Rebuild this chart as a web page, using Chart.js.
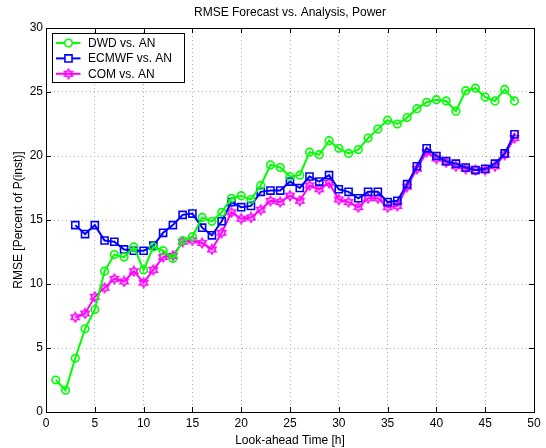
<!DOCTYPE html>
<html>
<head>
<meta charset="utf-8">
<script src="https://cdn.jsdelivr.net/npm/chart.js@4/dist/chart.umd.min.js"></script>
<style>
  html, body { margin: 0; padding: 0; background: #fff; }
  #wrap { width: 546px; height: 448px; }
</style>
</head>
<body>
<div id="wrap"><canvas id="c" width="546" height="448"></canvas></div>
<script>
// Look-ahead hours for each forecast series
const hoursDWD = [1,2,3,4,5,6,7,8,9,10,11,12,13,14,15,16,17,18,19,20,21,22,23,24,25,26,27,28,29,30,31,32,33,34,35,36,37,38,39,40,41,42,43,44,45,46,47,48];
const hoursModel = [3,4,5,6,7,8,9,10,11,12,13,14,15,16,17,18,19,20,21,22,23,24,25,26,27,28,29,30,31,32,33,34,35,36,37,38,39,40,41,42,43,44,45,46,47,48];

// RMSE in percent of installed power
const rmseDWD = [2.5,1.7,4.2,6.5,8.0,11.0,12.3,12.1,12.9,11.1,12.9,12.6,12.0,13.4,13.7,15.2,14.9,15.6,16.7,16.9,16.6,17.7,19.3,19.1,18.4,18.5,20.3,20.1,21.2,20.6,20.2,20.5,21.4,22.1,22.8,22.5,23.0,23.7,24.2,24.4,24.3,23.5,25.1,25.3,24.6,24.3,25.2,24.3];
const rmseECMWF = [14.6,13.9,14.6,13.4,13.3,12.7,12.6,12.6,13.0,14.0,14.6,15.4,15.5,14.4,13.8,14.9,16.4,16.0,16.1,17.2,17.3,17.3,18.0,17.5,18.4,18.0,18.5,17.4,17.2,16.7,17.2,17.2,16.4,16.5,17.8,19.2,20.6,20.0,19.6,19.4,19.1,18.9,19.0,19.4,20.2,21.7];
const rmseCOM = [7.4,7.7,9.0,9.7,10.4,10.2,11.0,10.1,11.1,12.1,12.2,13.3,13.4,13.2,12.7,14.0,15.6,15.1,15.2,15.8,16.5,16.4,16.9,16.5,17.7,17.4,17.9,16.6,16.4,16.0,16.7,16.7,16.0,16.1,17.6,19.0,20.3,19.8,19.5,19.2,19.0,18.9,18.9,19.2,20.1,21.4];

const seriesNames = ['DWD vs. AN', 'ECMWF vs. AN', 'COM vs. AN'];
const xTicks = [0,5,10,15,20,25,30,35,40,45,50];
const yTicks = [0,5,10,15,20,25,30];

const FONT = '"Liberation Sans", Arial, Helvetica, sans-serif';
const GREEN = '#00ff00', BLUE = '#0000ff', MAGENTA = '#ff00ff';

// six-pointed star outline used as a point marker
function makeHexagram(color) {
  const c = document.createElement('canvas');
  c.width = 12; c.height = 12;
  const g = c.getContext('2d');
  const cx = 6, cy = 6, R = 4.6, r = R / Math.sqrt(3);
  g.beginPath();
  for (let i = 0; i < 12; i++) {
    const a = -Math.PI / 2 + i * Math.PI / 6;
    const rad = i % 2 === 0 ? R : r;
    const px = cx + rad * Math.cos(a), py = cy + rad * Math.sin(a);
    if (i === 0) g.moveTo(px, py); else g.lineTo(px, py);
  }
  g.closePath();
  g.strokeStyle = color;
  g.lineWidth = 1.6;
  g.lineJoin = 'miter';
  g.stroke();
  return c;
}
const hexagram = makeHexagram(MAGENTA);

function toPoints(xs, ys) { return xs.map((x, i) => ({ x: x, y: ys[i] })); }

// frame with inward ticks on all four sides, plus title and legend
const framePlugin = {
  id: 'frame',
  afterDraw(chart) {
    const { ctx, chartArea: a, scales } = chart;
    ctx.save();
    ctx.strokeStyle = '#000';
    ctx.lineWidth = 1;
    ctx.strokeRect(Math.round(a.left) + 0.5, Math.round(a.top) + 0.5,
                   Math.round(a.right - a.left), Math.round(a.bottom - a.top));
    const tl = 5;
    ctx.beginPath();
    xTicks.forEach(v => {
      const px = Math.round(scales.x.getPixelForValue(v)) + 0.5;
      ctx.moveTo(px, a.bottom); ctx.lineTo(px, a.bottom - tl);
      ctx.moveTo(px, a.top); ctx.lineTo(px, a.top + tl);
    });
    yTicks.forEach(v => {
      const py = Math.round(scales.y.getPixelForValue(v)) + 0.5;
      ctx.moveTo(a.left, py); ctx.lineTo(a.left + tl, py);
      ctx.moveTo(a.right, py); ctx.lineTo(a.right - tl, py);
    });
    ctx.stroke();

    // title
    ctx.fillStyle = '#000';
    ctx.font = '12px ' + FONT;
    ctx.textAlign = 'center';
    ctx.textBaseline = 'middle';
    ctx.fillText('RMSE Forecast vs. Analysis, Power', (a.left + a.right) / 2, 13);

    // legend box
    const bx = a.left + 6.5, by = a.top + 5.5, bw = 132, bh = 49;
    ctx.fillStyle = '#fff';
    ctx.fillRect(bx, by, bw, bh);
    ctx.strokeStyle = '#000';
    ctx.strokeRect(bx, by, bw, bh);
    chart.data.datasets.forEach((ds, i) => {
      const y = by + 9.5 + i * 15.4;
      ctx.strokeStyle = ds.borderColor;
      ctx.lineWidth = ds.borderWidth;
      ctx.beginPath();
      ctx.moveTo(bx + 3.5, y); ctx.lineTo(bx + 28, y);
      ctx.stroke();
      ctx.fillStyle = '#fff';
      ctx.lineWidth = ds.pointBorderWidth;
      Chart.helpers.drawPoint(ctx, {
        pointStyle: ds.pointStyle,
        radius: ds.pointRadius,
        borderWidth: ds.pointBorderWidth,
        rotation: 0
      }, bx + 16, y);
      ctx.fillStyle = '#000';
      ctx.textAlign = 'left';
      ctx.fillText(ds.label, bx + 35.5, y + 0.5);
    });
    ctx.restore();
  }
};

const ds = (label, pts, color, style, radius) => ({
  label: label,
  data: pts,
  borderColor: color,
  backgroundColor: '#fff',
  borderWidth: 2,
  pointStyle: style,
  pointRadius: radius,
  pointBorderWidth: 1.6,
  pointBorderColor: color,
  pointBackgroundColor: 'rgba(0,0,0,0)',
  tension: 0,
  fill: false
});

new Chart(document.getElementById('c'), {
  type: 'line',
  data: {
    datasets: [
      ds(seriesNames[0], toPoints(hoursDWD, rmseDWD), GREEN, 'circle', 3.8),
      ds(seriesNames[1], toPoints(hoursModel, rmseECMWF), BLUE, 'rect', 5),
      ds(seriesNames[2], toPoints(hoursModel, rmseCOM), MAGENTA, hexagram, 4.5)
    ]
  },
  options: {
    responsive: false,
    animation: false,
    devicePixelRatio: 1,
    layout: { padding: { top: 28, right: 12, left: 0, bottom: 0 } },
    plugins: { legend: { display: false }, tooltip: { enabled: false }, title: { display: false } },
    scales: {
      x: {
        type: 'linear',
        min: 0, max: 50,
        afterBuildTicks: s => { s.ticks = xTicks.map(v => ({ value: v })); },
        afterFit: s => { s.height = 36; },
        ticks: { color: '#000', font: { family: FONT, size: 12 }, padding: 4, maxRotation: 0 },
        grid: { color: '#b0b0b0', lineWidth: 1, drawTicks: false },
        border: { display: false, dash: [1, 3] },
        title: { display: true, text: 'Look-ahead Time [h]', color: '#000', font: { family: FONT, size: 12 }, padding: { top: 0, bottom: 0 } }
      },
      y: {
        type: 'linear',
        min: 0, max: 30,
        afterBuildTicks: s => { s.ticks = yTicks.map(v => ({ value: v })); },
        afterFit: s => { s.width = 46; },
        ticks: { color: '#000', font: { family: FONT, size: 12 }, padding: 3 },
        grid: { color: '#b0b0b0', lineWidth: 1, drawTicks: false },
        border: { display: false, dash: [1, 3] },
        title: { display: true, text: 'RMSE [Percent of P(inst)]', color: '#000', font: { family: FONT, size: 12 }, padding: { top: 11, bottom: 0 } }
      }
    }
  },
  plugins: [framePlugin]
});
</script>
</body>
</html>
